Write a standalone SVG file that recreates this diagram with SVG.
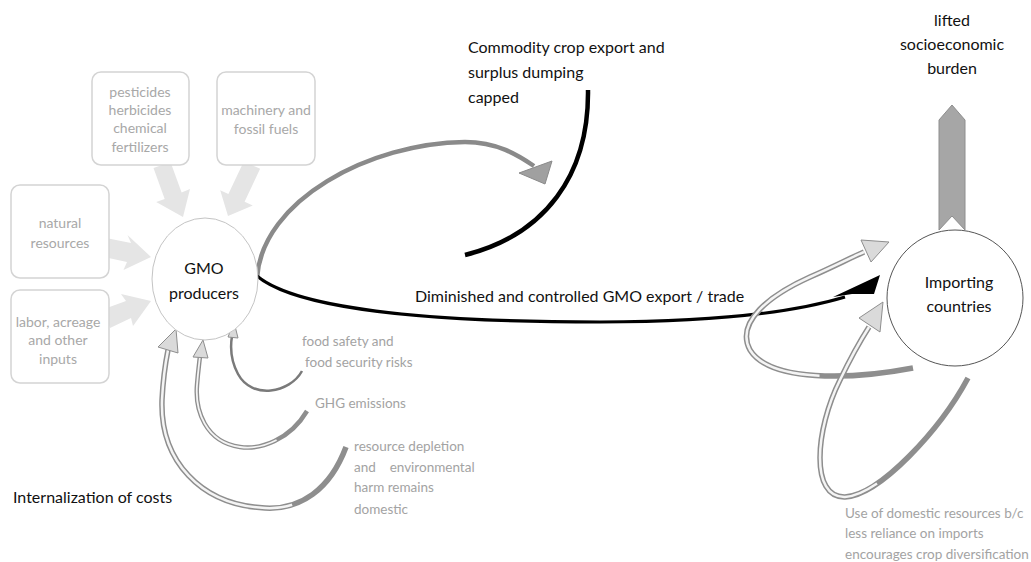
<svg xmlns="http://www.w3.org/2000/svg" width="1031" height="562" viewBox="0 0 1031 562">
<style>
text{font-family:Lato,"Liberation Sans",sans-serif;}
.dark{fill:#111;font-size:16px;}
.grey{fill:#a3a3a3;font-size:13.5px;}
.boxt{fill:#a8a8a8;font-size:14px;text-anchor:middle;}
.box{fill:#fff;stroke:#d4d4d4;stroke-width:1.5;}
.block{fill:#e5e5e5;}
.outer{fill:none;stroke:#8e8e8e;stroke-width:5.5;stroke-linecap:butt;}
.inner{fill:none;stroke:#f4f4f4;stroke-width:2.5;}
.head{fill:#dadada;stroke:#8e8e8e;stroke-width:1;stroke-linejoin:round;}
</style>
<rect width="1031" height="562" fill="#fff"/>

<g id="connectors">
  <!-- input block arrows -->
  <polygon class="block" points="153.5,168 164.7,199 156.2,202 183,217 190,189 181.6,192.6 170.5,162"/>
  <polygon class="block" points="260.1,168.8 244.6,201.7 252.8,205.6 228,216 220.2,190.2 228.4,194.1 243.9,161.2"/>
  <polygon class="block" points="106,238 131,243 127.5,235 151,257 123.5,270 127,262 104,257"/>
  <polygon class="block" points="104,309 126,301 121,294 151,301 133,326 131,318 110,328"/>

  <!-- gray export curve -->
  <path d="M 257,278 C 262,200 370,143 465,142 C 497,142 518,155 534,166" fill="none" stroke="#8a8a8a" stroke-width="4.5"/>
  <polygon points="519,173 552,161 545,184" fill="#a0a0a0" stroke="#8a8a8a" stroke-width="1"/>

  <!-- black commodity curve -->
  <path d="M 588,90 C 589,175 545,235 465,255" fill="none" stroke="#000" stroke-width="4.5"/>

  <!-- black export/trade curve -->
  <path d="M 257,276 C 300,312 450,322 600,322 C 720,322 795,312 845,297" fill="none" stroke="#000" stroke-width="3.2"/>
  <polygon points="833,297 880,275 874,294 852,294" fill="#000"/>

  <!-- socioeconomic up arrow -->
  <polygon points="939,230 939,120 952,105 965,120 965,230 952,216" fill="#a6a6a6" stroke="#8e8e8e" stroke-width="1"/>

  <!-- importing loop 1 -->
  <path class="outer" d="M 913,368 C 850,380 770,382 750,350 C 735,322 770,295 810,277 C 835,266 850,258 864,252"/>
  <path class="inner" pathLength="100" stroke-dasharray="0 28 100" d="M 913,368 C 850,380 770,382 750,350 C 735,322 770,295 810,277 C 835,266 850,258 864,252"/>
  <polygon class="head" points="861,240 889,242 871,262"/>

  <!-- importing loop 2 -->
  <path class="outer" d="M 968,378 C 940,430 880,495 845,497 C 810,498 815,430 840,380 C 852,355 862,338 869,327"/>
  <path class="inner" pathLength="100" stroke-dasharray="0 38 100" d="M 968,378 C 940,430 880,495 845,497 C 810,498 815,430 840,380 C 852,355 862,338 869,327"/>
  <polygon class="head" points="859,318 883,302 880,332"/>

  <!-- food safety arrow -->
  <path d="M 302,371 C 290,393 252,400 238,374 C 231,361 230,348 232,336" fill="none" stroke="#7a7a7a" stroke-width="2.5"/>
  <polygon class="head" points="228,337 234,322 238,338"/>

  <!-- GHG arrow -->
  <path class="outer" style="stroke-width:4.5" d="M 307,411 C 290,440 260,450 240,447 C 205,442 195,410 197,385 C 198,372 199,365 200,356"/>
  <path class="inner" style="stroke-width:1.8" pathLength="100" stroke-dasharray="0 22 100" d="M 307,411 C 290,440 260,450 240,447 C 205,442 195,410 197,385 C 198,372 199,365 200,356"/>
  <polygon class="head" points="193,357 203,340 208,358"/>

  <!-- resource depletion arrow -->
  <path class="outer" d="M 346,447 C 330,490 300,510 265,508 C 200,505 160,460 162,400 C 163,380 165,365 168,350"/>
  <path class="inner" pathLength="100" stroke-dasharray="0 25 100" d="M 346,447 C 330,490 300,510 265,508 C 200,505 160,460 162,400 C 163,380 165,365 168,350"/>
  <polygon class="head" points="158,347 176,329 178,353"/>
</g>

<g id="box-pesticides">
  <rect class="box" x="92" y="72" width="97" height="93" rx="9"/>
  <text class="boxt" x="140" y="97">pesticides</text>
  <text class="boxt" x="140" y="115">herbicides</text>
  <text class="boxt" x="140" y="133">chemical</text>
  <text class="boxt" x="140" y="152">fertilizers</text>
</g>
<g id="box-machinery">
  <rect class="box" x="217" y="72" width="98" height="93" rx="9"/>
  <text class="boxt" x="266" y="115">machinery and</text>
  <text class="boxt" x="266" y="134">fossil fuels</text>
</g>
<g id="box-natural">
  <rect class="box" x="11" y="185" width="98" height="93" rx="9"/>
  <text class="boxt" x="60" y="228">natural</text>
  <text class="boxt" x="60" y="248">resources</text>
</g>
<g id="box-labor">
  <rect class="box" x="11" y="290" width="98" height="93" rx="9"/>
  <text class="boxt" x="58" y="327">labor, acreage</text>
  <text class="boxt" x="58" y="345">and other</text>
  <text class="boxt" x="58" y="364">inputs</text>
</g>

<g id="gmo-producers">
  <ellipse cx="205" cy="279" rx="53" ry="61" fill="#fff" stroke="#c4c4c4" stroke-width="1"/>
  <text class="dark" x="204" y="274" text-anchor="middle">GMO</text>
  <text class="dark" x="204" y="299" text-anchor="middle">producers</text>
</g>

<g id="importing-countries">
  <circle cx="955" cy="298" r="68" fill="#fff" stroke="#555" stroke-width="1"/>
  <text class="dark" x="959" y="288" text-anchor="middle">Importing</text>
  <text class="dark" x="959" y="312" text-anchor="middle">countries</text>
</g>

<g id="labels">
  <text class="dark" x="468" y="53">Commodity crop export and</text>
  <text class="dark" x="468" y="78">surplus dumping</text>
  <text class="dark" x="468" y="103">capped</text>
  <text class="dark" x="415" y="302">Diminished and controlled GMO export / trade</text>
  <text class="dark" x="952" y="26" text-anchor="middle">lifted</text>
  <text class="dark" x="952" y="50" text-anchor="middle">socioeconomic</text>
  <text class="dark" x="952" y="74" text-anchor="middle">burden</text>
  <text class="dark" x="13" y="503">Internalization of costs</text>
  <text class="grey" x="302" y="346">food safety and</text>
  <text class="grey" x="305" y="367">food security risks</text>
  <text class="grey" x="315" y="408">GHG emissions</text>
  <text class="grey" x="354" y="451">resource depletion</text>
  <text class="grey" x="354" y="472" style="white-space:pre">and    environmental</text>
  <text class="grey" x="354" y="492">harm remains</text>
  <text class="grey" x="354" y="514">domestic</text>
  <text class="grey" x="845" y="518">Use of domestic resources b/c</text>
  <text class="grey" x="845" y="538">less reliance on imports</text>
  <text class="grey" x="845" y="559">encourages crop diversification</text>
</g>
</svg>
